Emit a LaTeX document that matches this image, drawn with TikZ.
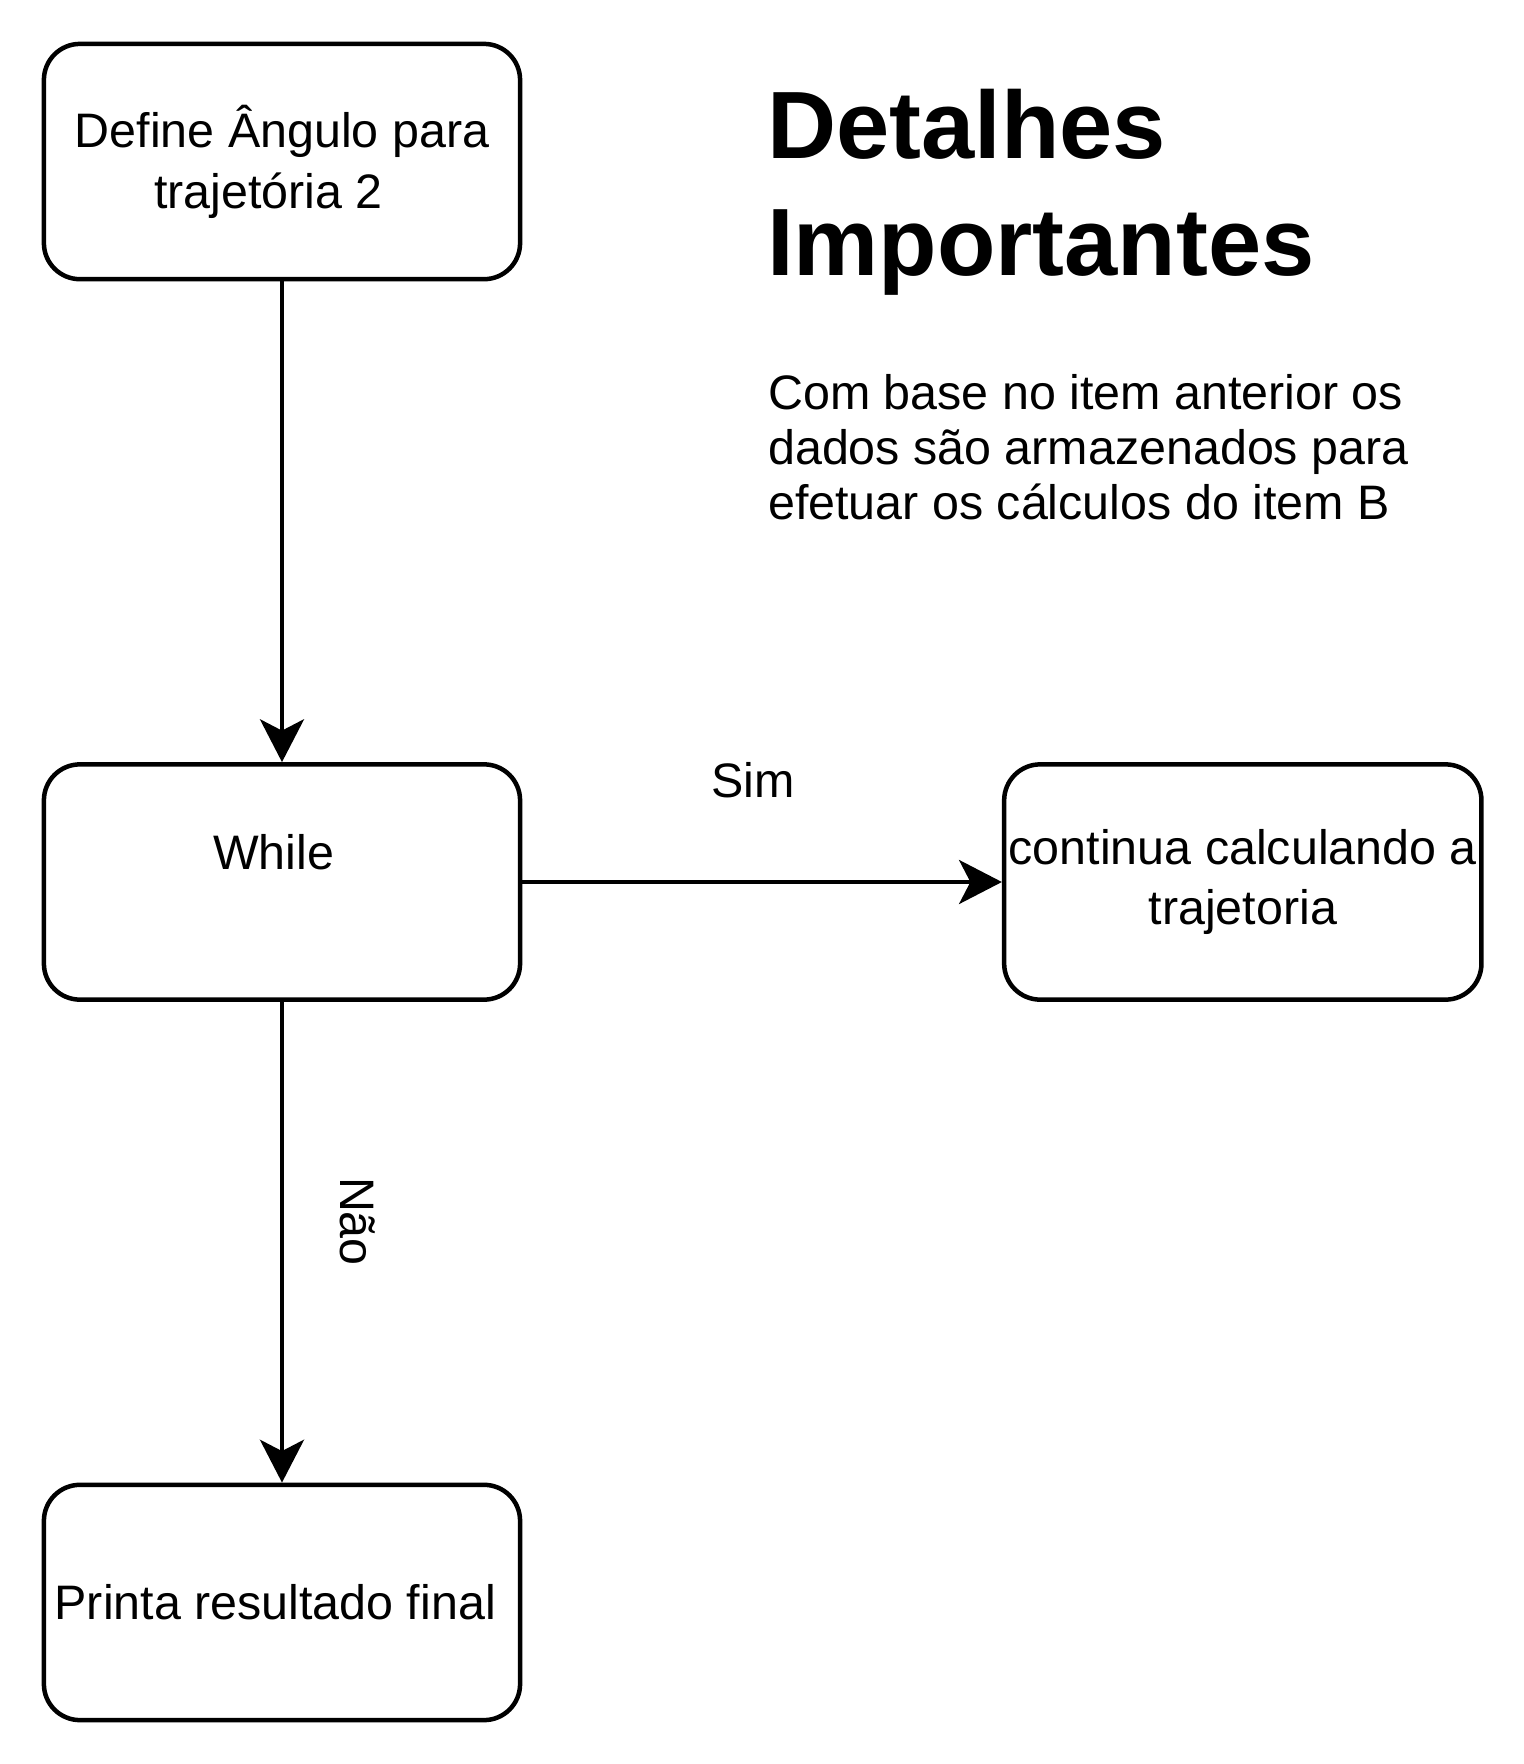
\documentclass[tikz,border=0pt]{standalone}
\usepackage{fontspec}
\setmainfont{Liberation Sans}
\usetikzlibrary{arrows.meta}
\begin{document}
\begin{tikzpicture}[x=0.5pt,y=-0.5pt,
  flowbox/.style={draw=black, line width=2pt, rounded corners=16pt, fill=white,
    minimum width=211.5pt, minimum height=104.5pt, align=center, inner sep=2pt,
    font=\fontsize{21.5}{27}\selectfont},
  lbl/.style={inner sep=0pt, font=\fontsize{21.5}{27}\selectfont},
  flowarrow/.style={line width=2pt, -{Stealth[length=19pt, width=19.5pt, inset=5pt]}}]
\useasboundingbox (0,0) rectangle (1353,1567);
\fill[white] (0,0) rectangle (1353,1567);

\node[flowbox] (define) at (250.5,143.5) {Define Ângulo para\\trajetória 2\hspace*{12pt}};
\node[flowbox] (while) at (250.5,783.5) {};
\node[lbl] (whiletxt) at (243,757) {While};
\node[flowbox] (cont) at (1104,783.5) {continua calculando a\\trajetoria};
\node[flowbox] (print) at (250.5,1423.5) {Printa resultado final\hspace*{6pt}};

\draw[flowarrow] (define) -- (while);
\draw[flowarrow] (while) -- (cont);
\draw[flowarrow] (while) -- (print);

\node[lbl] (sim) at (669,693) {Sim};
\node[lbl, rotate=-90] (nao) at (318,1085) {Não};

\node[anchor=north west, inner sep=0pt, align=left,
  font=\fontsize{42.5}{52}\selectfont\bfseries] (title) at (681,79)
  {Detalhes\\Importantes};
\node[anchor=north west, inner sep=0pt, align=left,
  font=\fontsize{21.5}{24.5}\selectfont] (body) at (682,332)
  {Com base no item anterior os\\dados são armazenados para\\efetuar os cálculos do item B};
\end{tikzpicture}
\end{document}
